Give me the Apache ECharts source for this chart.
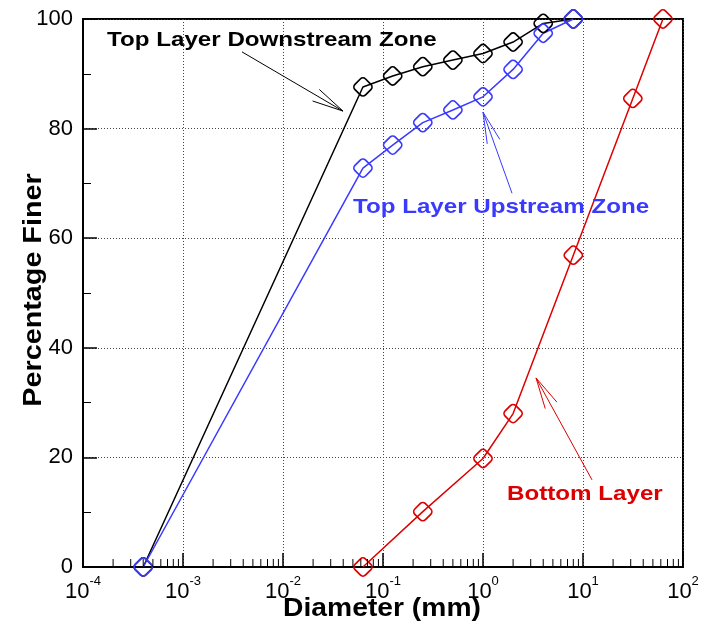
<!DOCTYPE html>
<html>
<head>
<meta charset="utf-8">
<script src="https://cdn.jsdelivr.net/npm/echarts@6/dist/echarts.min.js"></script>
<style>
  html, body { margin: 0; padding: 0; background: #fff; }
  #main { width: 712px; height: 629px; }
</style>
</head>
<body>
<div id="main"></div>
<script>
// sieve diameters (mm) and percentage finer
var topSizes = [0.0004, 0.063, 0.125, 0.25, 0.5, 1, 2, 4, 8];
var downstream = [0, 87.6, 89.6, 91.3, 92.5, 93.7, 95.8, 99.2, 100];
var upstream = [0, 72.8, 77.0, 81.1, 83.4, 85.8, 90.8, 97.4, 100];
var bottomSizes = [0.063, 0.25, 1, 2, 8, 31.5, 63];
var bottomLayer = [0, 10.1, 19.8, 28.0, 56.9, 85.5, 100];

var xTickLabels = {'-4': '-4', '-3': '-3', '-2': '-2', '-1': '-1', '0': '0', '1': '1', '2': '2'};
var yTickLabels = ['0', '20', '40', '60', '80', '100'];
var minorMantissa = [2, 3, 4, 5, 6, 7, 8, 9];
var decades = [-4, -3, -2, -1, 0, 1];

var FONT = '"Liberation Sans", Arial, sans-serif';
var BLACK = '#000000', BLUE = '#3a3aff', RED = '#dd0000';

function pairs(xs, ys) {
	return xs.map(function (x, i) { return [x, ys[i]]; });
}

// minor ticks of the log axis at 2..9 of every decade
var minorTicks = [];
decades.forEach(function (d) {
	minorMantissa.forEach(function (m) { minorTicks.push([m * Math.pow(10, d), 0]); });
});

function curve(name, data, color) {
	return {
		name: name,
		type: 'line',
		data: data,
		// rounded square turned 45 deg, like the plotted diamonds
		symbol: 'roundRect',
		symbolRotate: 45,
		symbolSize: 15,
		lineStyle: { color: color, width: 1.5 },
		itemStyle: { color: 'rgba(0,0,0,0)', borderColor: color, borderWidth: 1.7 },
		emphasis: { disabled: true },
		z: 3
	};
}

var myChart = echarts.init(document.getElementById('main'));
myChart.setOption({
	animation: false,
	backgroundColor: '#fff',
	grid: {
		left: 83, right: 29, top: 19, bottom: 62,
		show: true, borderColor: '#000', borderWidth: 2
	},
	xAxis: {
		type: 'log',
		logBase: 10,
		min: 0.0001,
		max: 100,
		splitNumber: 6,
		axisLine: { lineStyle: { color: '#000', width: 2 } },
		axisTick: { inside: true, length: 14, lineStyle: { color: '#000', width: 1.5 } },
		splitLine: { show: true, lineStyle: { color: '#444', type: [1, 2], width: 1 } },
		axisLabel: {
			margin: 8,
			formatter: function (v) {
				var e = Math.round(Math.log10(v));
				return '{b|10}{s|' + xTickLabels[String(e)] + '}';
			},
			rich: {
				b: { fontFamily: FONT, fontSize: 22, color: '#000', lineHeight: 28, verticalAlign: 'bottom' },
				s: { fontFamily: FONT, fontSize: 13, color: '#000', lineHeight: 14, verticalAlign: 'top' }
			}
		}
	},
	yAxis: {
		type: 'value',
		min: 0,
		max: 100,
		interval: 20,
		axisLine: { show: true, lineStyle: { color: '#000', width: 2 } },
		axisTick: { show: true, inside: true, length: 14, lineStyle: { color: '#000', width: 1.5 } },
		minorTick: { show: true, splitNumber: 2, length: 8, lineStyle: { color: '#000', width: 1 } },
		splitLine: { show: true, lineStyle: { color: '#444', type: [1, 2], width: 1 } },
		axisLabel: {
			margin: 10,
			fontFamily: FONT, fontSize: 22, color: '#000',
			formatter: function (v) { return yTickLabels[v / 20]; }
		}
	},
	series: [
		curve('Top Layer Downstream Zone', pairs(topSizes, downstream), BLACK),
		curve('Top Layer Upstream Zone', pairs(topSizes, upstream), BLUE),
		curve('Bottom Layer', pairs(bottomSizes, bottomLayer), RED),
		{
			type: 'custom',
			data: minorTicks,
			silent: true,
			z: 4,
			renderItem: function (params, api) {
				var p = api.coord([api.value(0), 0]);
				return {
					type: 'line',
					shape: { x1: p[0], y1: p[1], x2: p[0], y2: p[1] - 8 },
					style: { stroke: '#000', lineWidth: 1 }
				};
			}
		}
	]
});

// annotations, anchored in data space: text position, arrow tail and tip
var annotations = [
	{ text: 'Top Layer Downstream Zone', color: BLACK, at: [0.000174, 96.2], tail: [0.00389, 94.0], tip: [0.0398, 83.2] },
	{ text: 'Top Layer Upstream Zone', color: BLUE, at: [0.0501, 65.6], tail: [1.95, 68.2], tip: [1.0, 83.0] },
	{ text: 'Bottom Layer', color: RED, at: [1.74, 13.2], tail: [12.3, 15.9], tip: [3.39, 34.5] }
];

function toPx(pt) {
	return myChart.convertToPixel({ xAxisIndex: 0, yAxisIndex: 0 }, pt);
}

var graphics = [];
annotations.forEach(function (a) {
	var at = toPx(a.at), tail = toPx(a.tail), tip = toPx(a.tip);
	graphics.push({
		type: 'text', x: at[0], y: at[1], scaleX: 1.15, z: 10,
		style: { text: a.text, fill: a.color, font: 'bold 21px ' + FONT, textAlign: 'left', textVerticalAlign: 'middle' }
	});
	graphics.push({
		type: 'line', z: 10,
		shape: { x1: tail[0], y1: tail[1], x2: tip[0], y2: tip[1] },
		style: { stroke: a.color, lineWidth: 1 }
	});
	var ang = Math.atan2(tail[1] - tip[1], tail[0] - tip[0]);
	[-0.21, 0.21].forEach(function (d) {
		graphics.push({
			type: 'line', z: 10,
			shape: { x1: tip[0], y1: tip[1], x2: tip[0] + 32 * Math.cos(ang + d), y2: tip[1] + 32 * Math.sin(ang + d) },
			style: { stroke: a.color, lineWidth: 1 }
		});
	});
});

// axis titles
graphics.push({
	type: 'text', x: 382, y: 609, scaleX: 1.13, z: 10,
	style: { text: 'Diameter (mm)', fill: '#000', font: 'bold 25px ' + FONT, textAlign: 'center', textVerticalAlign: 'middle' }
});
graphics.push({
	type: 'text', x: 34, y: 290, rotation: Math.PI / 2, scaleX: 1.15, z: 10,
	style: { text: 'Percentage Finer', fill: '#000', font: 'bold 25px ' + FONT, textAlign: 'center', textVerticalAlign: 'middle' }
});

myChart.setOption({ graphic: graphics });
</script>
</body>
</html>
